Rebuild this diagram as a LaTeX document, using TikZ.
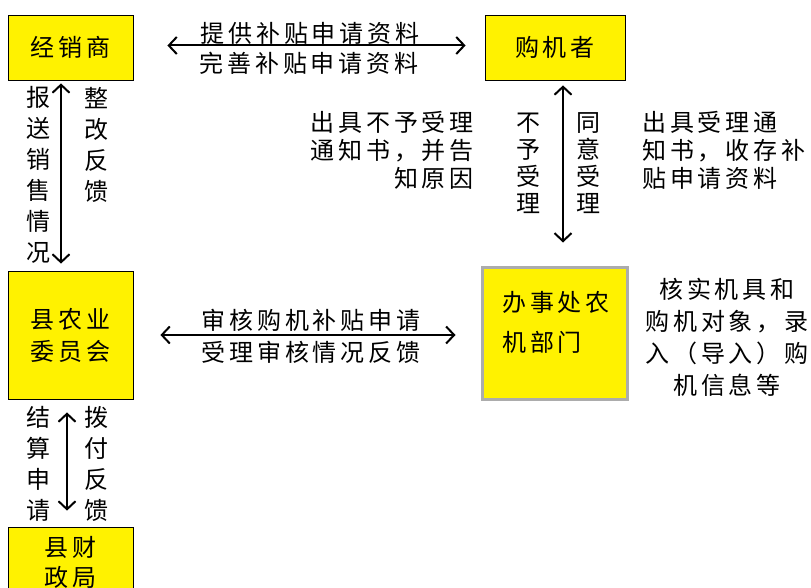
\documentclass[tikz,border=0pt]{standalone}
\usepackage{fontspec}
\setmainfont{Noto Sans CJK SC}[LetterSpace=16]
\newfontfamily\colfont{Noto Sans CJK SC}
\usetikzlibrary{arrows.meta}

\begin{document}
\begin{tikzpicture}[
            x=1pt, y=-1pt,
            unit/.style={rectangle, draw, fill=yellow, line width=0.8pt, inner sep=0pt, align=center,
                font=\fontsize{24}{32}\selectfont},
            lab/.style={inner sep=0pt, font=\fontsize{24}{28}\selectfont},
            col/.style={inner sep=0pt, align=center, font=\colfont\fontsize{24}{31}\selectfont},
            link/.style={line width=2pt, {Straight Barb[length=8pt,width=17pt]}-{Straight Barb[length=8pt,width=17pt]}}
        ]
        \useasboundingbox (0,0) rectangle (811,588);
        \node[unit, minimum width=125pt, minimum height=65pt] (dealer) at (70.5,47.5) {经销商};
        \node[unit, minimum width=140pt, minimum height=65pt] (buyer) at (555,47.5) {购机者};
        \node[unit, minimum width=125pt, minimum height=128pt] (agri) at (70.5,335) {县农业\\委员会};
        \node[unit, draw=gray!65, line width=3pt, minimum width=145pt, minimum height=132pt] (office) at (554.5,333) {};
        \node[lab, anchor=west, align=left, font=\fontsize{24}{40}\selectfont] (officetext) at (502,322) {办事处农\\机部门};
        \node[unit, minimum width=125pt, minimum height=70pt, font=\fontsize{24}{30}\selectfont] (finance) at (70.5,562) {县财\\政局};

        \node[lab] (give) at (310,33) {提供补贴申请资料};
        \node[lab] (perfect) at (309,63) {完善补贴申请资料};
        \node[lab] (audit) at (311,320) {审核购机补贴申请};
        \node[lab] (feedback) at (311,352) {受理审核情况反馈};
        \node[lab, anchor=east, align=right] (rejectnote) at (474,150) {出具不予受理\\通知书，并告\\知原因};
        \node[lab, anchor=west, align=left] (acceptnote) at (642,150) {出具受理通\\知书，收存补\\贴申请资料};
        \node[lab, align=center, font=\fontsize{24}{32}\selectfont] (verify) at (727,337) {核实机具和\\购机对象，录\\入（导入）购\\机信息等};

        \node[col] (report) at (38,175) {报\\送\\销\\售\\情\\况};
        \node[col] (rectify) at (96,145) {整\\改\\反\\馈};
        \node[col, font=\colfont\fontsize{24}{27}\selectfont] (reject) at (528,163) {不\\予\\受\\理};
        \node[col, font=\colfont\fontsize{24}{27}\selectfont] (accept) at (588,163) {同\\意\\受\\理};
        \node[col] (settle) at (38,464) {结\\算\\申\\请};
        \node[col] (pay) at (96,464) {拨\\付\\反\\馈};

        \draw[link, shorten <=34pt, shorten >=19pt] ([yshift=2pt]dealer.east) -- ([yshift=2pt]buyer.west);
        \draw[link, shorten <=3pt, shorten >=7pt] ([xshift=-9.5pt]dealer.south) -- ([xshift=-9.5pt]agri.north);
        \draw[link, shorten <=5pt, shorten >=23pt] ([xshift=8pt]buyer.south) -- ([xshift=8pt]buyer.south |- office.north);
        \draw[link, shorten <=27pt, shorten >=25pt] (agri.east) -- (agri.east -| office.west);
        \draw[link, shorten <=13pt, shorten >=16pt] ([xshift=-3.5pt]agri.south) -- ([xshift=-3.5pt]finance.north);
    \end{tikzpicture}
\end{document}
